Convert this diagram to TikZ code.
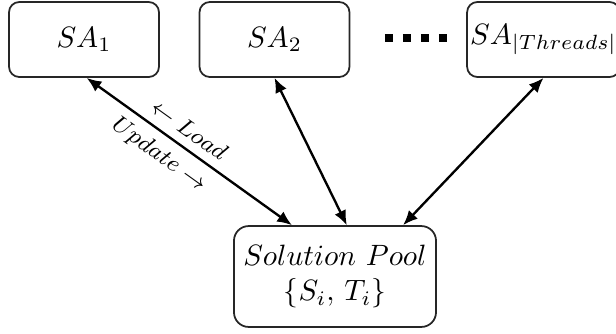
\documentclass[tikz,border=0pt]{standalone}
\usepackage{amsmath}
\usepackage{tikz}
\usetikzlibrary{arrows.meta,positioning}
\tikzset{
  saarrow/.style={{Latex[length=5pt,width=4.2pt]}-{Latex[length=5pt,width=4.2pt]}, thick, draw=black},
  worker/.style={draw=black!85, rounded corners=3.5pt, semithick, align=center,
    inner sep=1pt, minimum height=25.5pt, minimum width=51pt},
  pool/.style={draw=black!85, rounded corners=5pt, semithick, align=center,
    inner sep=2pt, minimum height=34.3pt, minimum width=68.7pt},
  edgenote/.style={font=\footnotesize, inner sep=3pt}
}

\begin{document}
\begin{tikzpicture}[x=0.34pt, y=-0.34pt]
    \useasboundingbox (0,0) rectangle (616,333);

    \node[worker] (sa1) at (84,39.5) {$SA_1$};
    \node[worker] (sa2) at (274.5,39.5) {$SA_2$};
    \node[worker, minimum width=48.6pt] (sat) at (543.5,39.5) {$SA_{|Threads|}$};
    \node[pool] (pl) at (335,276.5) {$Solution\ Pool$\\$\{S_i,\, T_i\}$};

    % the dots between the workers
    \coordinate (d0) at (385,37.5);
    \coordinate (d1) at (447,37.5);
    \draw[line width=2.72pt, dash pattern=on 2.72pt off 3.4pt] (d0) -- (d1);

    \draw[saarrow] (sa1.-86) -- node[edgenote, pos=0.45, above, sloped] {$\leftarrow Load$}
        node[edgenote, pos=0.41, below, sloped] {$Update \rightarrow$} (pl.130);
    \draw[saarrow] (sa2.south) -- (pl.77);
    \draw[saarrow] (sat.south) -- (pl.37);
\end{tikzpicture}
\end{document}
